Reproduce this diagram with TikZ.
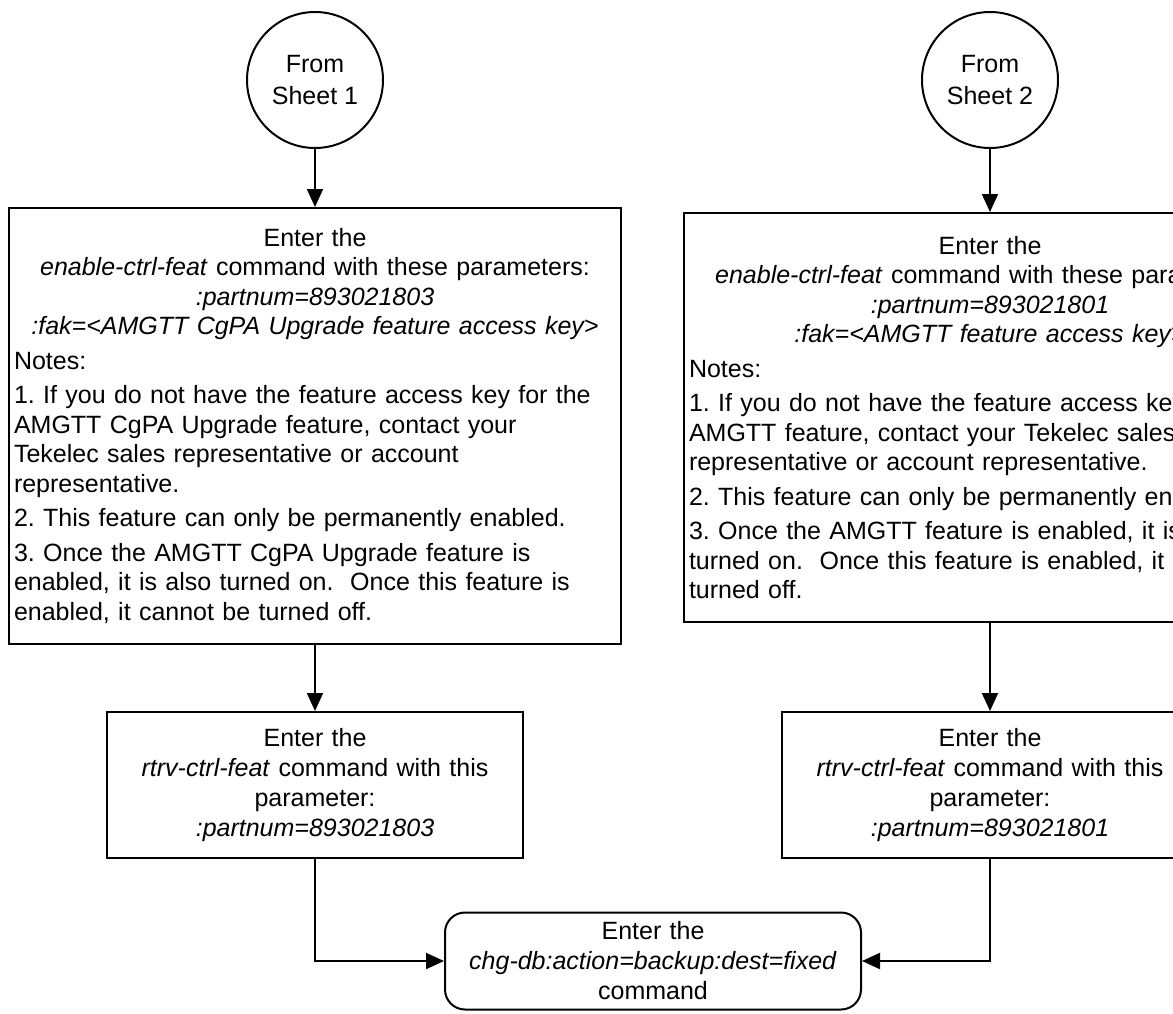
\documentclass[tikz,border=0pt]{standalone}
\usepackage{fontspec}
\setmainfont{Liberation Sans}
\usetikzlibrary{arrows.meta}
\frenchspacing
\tikzset{
  sheet/.style={
    circle,
    draw,
    line width=1pt,
    minimum size=68pt,
    inner sep=0pt,
    align=center,
    font=\fontsize{12.5}{16}\selectfont
  },
  notebox/.style={
    draw,
    line width=1pt,
    anchor=north,
    text width=301pt,
    inner xsep=2.5pt,
    inner ysep=0pt,
    font=\fontsize{12.5}{14.75}\selectfont,
    execute at begin node=\setlength{\parskip}{2.5pt}
  },
  cmdbox/.style={
    draw,
    line width=1pt,
    anchor=north,
    text width=203pt,
    minimum height=73pt,
    inner xsep=2.5pt,
    align=center,
    font=\fontsize{12.5}{15}\selectfont
  },
  endbox/.style={
    cmdbox,
    anchor=center,
    minimum height=48.5pt,
    rounded corners=10pt
  },
  flow/.style={
    -{Triangle[length=9pt, width=8pt]},
    line width=1pt
  }
}

\begin{document}
\begin{tikzpicture}[x=0.5pt, y=-0.5pt]

  \useasboundingbox (0,0) rectangle (1173,1013);
  \clip (0,0) rectangle (1173,1013);

  %% ---- connectors from the other sheets ----
  \node[sheet] (from1) at (315, 80) {From\\Sheet 1};
  \node[sheet] (from2) at (990, 80) {From\\Sheet 2};

  %% ---- enable-ctrl-feat boxes ----
  \node[notebox, minimum height=218pt] (enable1) at (315, 207) {%
    {\centering Enter the\\
    \textit{enable-ctrl-feat} command with these parameters:\\
    \textit{:partnum=893021803}\\
    \textit{:fak=<AMGTT CgPA Upgrade feature access key>}\par}
    \raggedright
    Notes:\par
    1. If you do not have the feature access key for the\\
    AMGTT CgPA Upgrade feature, contact your\\
    Tekelec sales representative or account\\
    representative.\par
    2. This feature can only be permanently enabled.\par
    3. Once the AMGTT CgPA Upgrade feature is\\
    enabled, it is also turned on.\ \ Once this feature is\\
    enabled, it cannot be turned off.\par};

  \node[notebox, minimum height=204.5pt] (enable2) at (990, 212) {%
    {\centering Enter the\\
    \textit{enable-ctrl-feat} command with these parameters:\\
    \textit{:partnum=893021801}\\
    \textit{:fak=<AMGTT feature access key>}\par}
    \raggedright
    Notes:\par
    1. If you do not have the feature access key for the\\
    AMGTT feature, contact your Tekelec sales\\
    representative or account representative.\par
    2. This feature can only be permanently enabled.\par
    3. Once the AMGTT feature is enabled, it is also\\
    turned on.\ \ Once this feature is enabled, it cannot be\\
    turned off.\par};

  %% ---- rtrv-ctrl-feat boxes ----
  \node[cmdbox] (rtrv1) at (315, 711)
    {Enter the\\ \textit{rtrv-ctrl-feat} command with this\\ parameter:\\ \textit{:partnum=893021803}};
  \node[cmdbox] (rtrv2) at (990, 711)
    {Enter the\\ \textit{rtrv-ctrl-feat} command with this\\ parameter:\\ \textit{:partnum=893021801}};

  %% ---- backup ----
  \node[endbox] (backup) at (653, 961)
    {Enter the\\ \textit{chg-db:action=backup:dest=fixed}\\ command};

  %% ---- flow lines ----
  \draw[flow] (from1) -- (enable1);
  \draw[flow] (from2) -- (enable2);
  \draw[flow] (enable1) -- (rtrv1);
  \draw[flow] (enable2) -- (rtrv2);
  \draw[flow] (rtrv1.south) |- (backup.west);
  \draw[flow] (rtrv2.south) |- (backup.east);

\end{tikzpicture}
\end{document}
